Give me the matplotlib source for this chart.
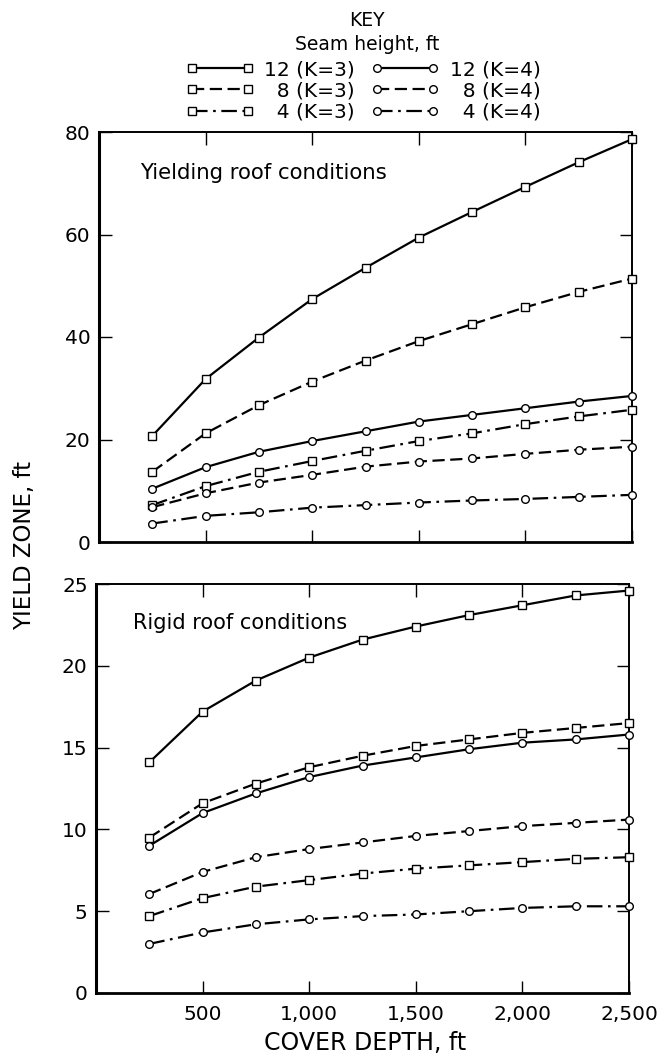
import numpy as np
import matplotlib
matplotlib.use("Agg")
import matplotlib.pyplot as plt
from matplotlib.lines import Line2D

# cover depth, ft
depth = [250, 500, 750, 1000, 1250, 1500, 1750, 2000, 2250, 2500]

# yielding roof conditions
yield_12_k3 = [20.7, 31.8, 39.9, 47.4, 53.5, 59.4, 64.4, 69.3, 74.1, 78.6]
yield_8_k3 = [13.7, 21.2, 26.7, 31.3, 35.4, 39.2, 42.5, 45.8, 48.8, 51.4]
yield_4_k3 = [7.2, 10.9, 13.7, 15.8, 17.8, 19.7, 21.2, 23.0, 24.5, 25.8]
yield_12_k4 = [10.4, 14.6, 17.6, 19.7, 21.6, 23.5, 24.8, 26.1, 27.4, 28.5]
yield_8_k4 = [6.8, 9.5, 11.6, 13.1, 14.7, 15.7, 16.3, 17.2, 18.0, 18.6]
yield_4_k4 = [3.6, 5.1, 5.8, 6.7, 7.2, 7.7, 8.1, 8.4, 8.8, 9.2]

# rigid roof conditions
rigid_12_k3 = [14.1, 17.2, 19.1, 20.5, 21.6, 22.4, 23.1, 23.7, 24.3, 24.6]
rigid_8_k3 = [9.5, 11.6, 12.8, 13.8, 14.5, 15.1, 15.5, 15.9, 16.2, 16.5]
rigid_4_k3 = [4.7, 5.8, 6.5, 6.9, 7.3, 7.6, 7.8, 8.0, 8.2, 8.3]
rigid_12_k4 = [9.0, 11.0, 12.2, 13.2, 13.9, 14.4, 14.9, 15.3, 15.5, 15.8]
rigid_8_k4 = [6.05, 7.4, 8.3, 8.8, 9.2, 9.6, 9.9, 10.2, 10.4, 10.6]
rigid_4_k4 = [3.0, 3.7, 4.2, 4.5, 4.7, 4.8, 5.0, 5.2, 5.3, 5.3]

# figure space keeps the "(K=..)" parts lined up like the original key
labels = ["12 (K=3)", "\u20078 (K=3)", "\u20074 (K=3)",
          "12 (K=4)", "\u20078 (K=4)", "\u20074 (K=4)"]
xticks = [500, 1000, 1500, 2000, 2500]
xticklabels = ["500", "1,000", "1,500", "2,000", "2,500"]

plt.rcParams['font.family'] = ['DejaVu Sans']

# line styles: solid, dashed, dash-dot
dash = (0, (5.5, 2.5))
dashdot = (0, (7, 2.5, 1.2, 2.5))
styles = [("-", "s"), (dash, "s"), (dashdot, "s"),
          ("-", "o"), (dash, "o"), (dashdot, "o")]

def draw(ax, series):
    for (ls, mk), ys in zip(styles, series):
        ax.plot(depth, ys, color='black', linestyle=ls, linewidth=1.6,
                marker=mk, markersize=6 if mk == "s" else 5.5,
                markerfacecolor='white', markeredgecolor='black',
                markeredgewidth=1.0, clip_on=False, zorder=3)
    ax.set_xlim(0, 2500)
    ax.set_xticks(xticks)
    ax.tick_params(direction='in', length=9, width=1.0, top=True, right=True,
                   labelsize=14.5, pad=6)
    for s in ax.spines.values():
        s.set_linewidth(1.4)
    ax.spines['left'].set_linewidth(2.2)
    ax.spines['bottom'].set_linewidth(2.0)

fig = plt.figure(figsize=(6.68, 10.58), dpi=100)

ax1 = fig.add_axes([99/668, 1 - 542/1058, 533/668, 410/1058])
draw(ax1, [yield_12_k3, yield_8_k3, yield_4_k3, yield_12_k4, yield_8_k4, yield_4_k4])
ax1.set_ylim(0, 80)
ax1.set_yticks([0, 20, 40, 60, 80])
ax1.set_xticklabels([])
ax1.text(0.077, 0.9, "Yielding roof conditions", transform=ax1.transAxes,
         fontsize=15.3, va='center', ha='left')

ax2 = fig.add_axes([96/668, 1 - 993/1058, 533/668, 409/1058])
draw(ax2, [rigid_12_k3, rigid_8_k3, rigid_4_k3, rigid_12_k4, rigid_8_k4, rigid_4_k4])
ax2.set_ylim(0, 25)
ax2.set_yticks([0, 5, 10, 15, 20, 25])
ax2.set_xticklabels(xticklabels)
ax2.tick_params(axis='x', pad=9)
ax2.text(0.07, 0.904, "Rigid roof conditions", transform=ax2.transAxes,
         fontsize=15, va='center', ha='left')

fig.text(25/668, 1 - 545/1058, "YIELD ZONE, ft", rotation=90, fontsize=16.5,
         ha='center', va='center')
fig.text(365/668, 1 - 1043/1058, "COVER DEPTH, ft", fontsize=17,
         ha='center', va='center')

# key
fig.text(367/668, 1 - 20/1058, "KEY", fontsize=13.5, ha='center', va='center')
fig.text(367/668, 1 - 45/1058, "Seam height, ft", fontsize=13.5, ha='center', va='center')
handles = [Line2D([], [], color='black', linestyle=ls, linewidth=1.6, marker=mk,
                  markersize=5.5, markerfacecolor='white', markeredgecolor='black')
           for ls, mk in styles]
fig.legend(handles, labels, ncol=2, loc='center', bbox_to_anchor=(363/668, 1 - 91/1058),
           frameon=False, fontsize=14.5, numpoints=2, handlelength=3.4,
           handletextpad=0.5, columnspacing=0.8, labelspacing=0.12,
           borderpad=0)

fig.savefig("out.png", dpi=100)
